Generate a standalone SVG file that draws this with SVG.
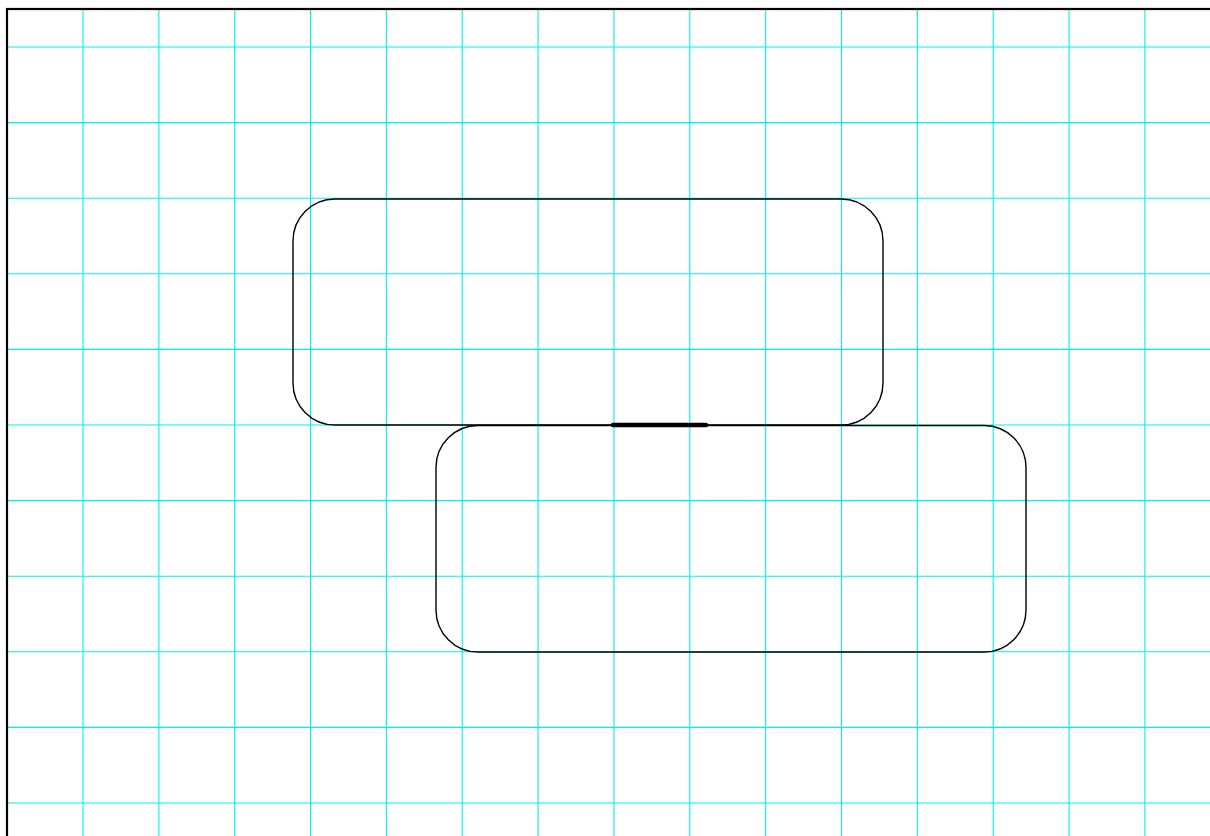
<svg xmlns="http://www.w3.org/2000/svg" width="1210" height="836" viewBox="0 0 1210 836">
<style>
.grid line{stroke:#00f0f0;stroke-width:1.1}
.node{fill:none;stroke:#000;stroke-width:1.4}
.frame{fill:none;stroke:#000;stroke-width:2.2}
.conn{stroke:#000;stroke-width:4.5;stroke-linecap:round}
</style>
<rect width="1210" height="836" fill="#fff"/>
<g class="grid" id="grid">
<line x1="83" y1="9" x2="83" y2="836"/>
<line x1="158.85" y1="9" x2="158.85" y2="836"/>
<line x1="234.7" y1="9" x2="234.7" y2="836"/>
<line x1="310.55" y1="9" x2="310.55" y2="836"/>
<line x1="386.4" y1="9" x2="386.4" y2="836"/>
<line x1="462.25" y1="9" x2="462.25" y2="836"/>
<line x1="538.1" y1="9" x2="538.1" y2="836"/>
<line x1="613.95" y1="9" x2="613.95" y2="836"/>
<line x1="689.8" y1="9" x2="689.8" y2="836"/>
<line x1="765.65" y1="9" x2="765.65" y2="836"/>
<line x1="841.5" y1="9" x2="841.5" y2="836"/>
<line x1="917.35" y1="9" x2="917.35" y2="836"/>
<line x1="993.2" y1="9" x2="993.2" y2="836"/>
<line x1="1069.05" y1="9" x2="1069.05" y2="836"/>
<line x1="1144.9" y1="9" x2="1144.9" y2="836"/>
<line x1="7" y1="47" x2="1210" y2="47"/>
<line x1="7" y1="122.6" x2="1210" y2="122.6"/>
<line x1="7" y1="198.2" x2="1210" y2="198.2"/>
<line x1="7" y1="273.8" x2="1210" y2="273.8"/>
<line x1="7" y1="349.4" x2="1210" y2="349.4"/>
<line x1="7" y1="425" x2="1210" y2="425"/>
<line x1="7" y1="500.6" x2="1210" y2="500.6"/>
<line x1="7" y1="576.2" x2="1210" y2="576.2"/>
<line x1="7" y1="651.8" x2="1210" y2="651.8"/>
<line x1="7" y1="727.4" x2="1210" y2="727.4"/>
<line x1="7" y1="803" x2="1210" y2="803"/>
</g>
<rect class="frame" x="7" y="9" width="1220" height="840"/>
<g id="node1"><rect class="node" x="293" y="199" width="590" height="226" rx="42" ry="42"/></g>
<g id="node2"><rect class="node" x="436" y="425.5" width="590" height="226.5" rx="42" ry="42"/></g>
<g id="connectors"><line class="conn" x1="613" y1="425" x2="706" y2="425"/></g>
</svg>
